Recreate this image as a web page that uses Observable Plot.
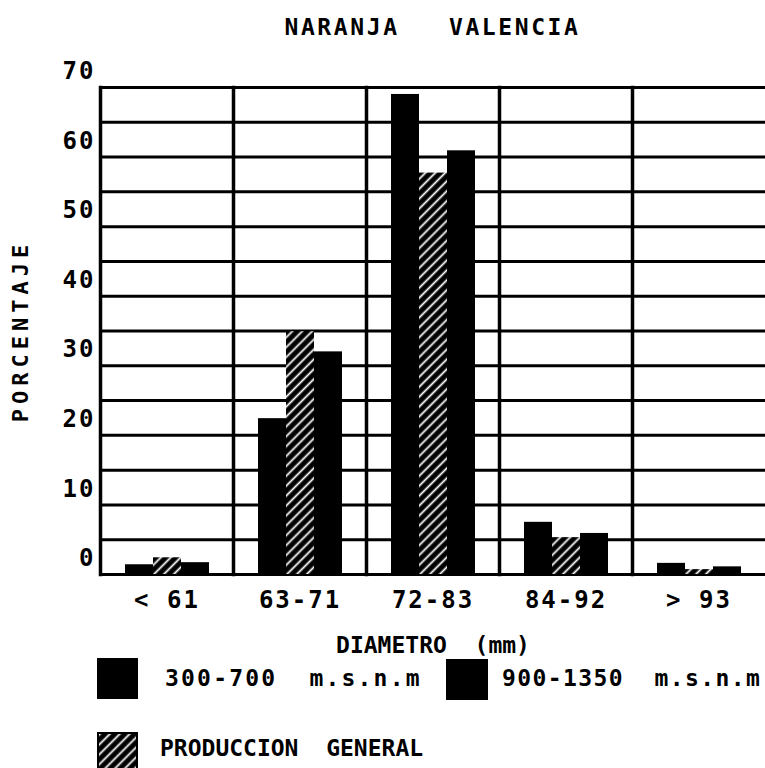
<!DOCTYPE html>
<html>
<head>
<meta charset="utf-8">
<script src="https://cdn.jsdelivr.net/npm/d3@7"></script>
<script src="https://cdn.jsdelivr.net/npm/@observablehq/plot@0.6"></script>
<style>
  html, body { margin: 0; padding: 0; background: white; }
  body { width: 765px; height: 768px; overflow: hidden; font-family: "DejaVu Sans Mono", monospace; font-weight: bold; color: black; }
  #title { height: 60px; box-sizing: border-box; padding-left: 100px; padding-top: 16px; text-align: center; font-size: 23px; line-height: 22px; letter-spacing: 2.6px; white-space: pre; }
  #legend { position: relative; height: 112px; }
  .sw { position: absolute; }
  .lt { position: absolute; font-size: 23px; line-height: 26px; white-space: pre; }
</style>
</head>
<body>
<div id="title"></div>
<div id="chart"></div>
<div id="legend"></div>
<script>
const titleText = "NARANJA   VALENCIA";
const categories = ["< 61", "63-71", "72-83", "84-92", "> 93"];
const series = ["300-700 m.s.n.m", "PRODUCCION GENERAL", "900-1350 m.s.n.m"];
const legendLabels = ["300-700  m.s.n.m", "PRODUCCION  GENERAL", "900-1350  m.s.n.m"];
const valuesLow = [1.4, 22.4, 69.0, 7.5, 1.6];      // 300-700 m.s.n.m
const valuesGeneral = [2.4, 34.9, 57.7, 5.3, 0.7];  // PRODUCCION GENERAL
const valuesHigh = [1.7, 32.0, 60.9, 5.9, 1.1];     // 900-1350 m.s.n.m
const yTicks = [0, 10, 20, 30, 40, 50, 60, 70];
const gridLevels = [0, 5, 10, 15, 20, 25, 30, 35, 40, 45, 50, 55, 60, 65, 70];
const xLabel = "DIAMETRO  (mm)";
const yLabel = "PORCENTAJE";

document.getElementById("title").textContent = titleText;

const seriesValues = [valuesLow, valuesGeneral, valuesHigh];
const rows = [];
categories.forEach((c, i) => {
  series.forEach((s, j) => rows.push({category: c, series: s, value: seriesValues[j][i]}));
});

const chart = Plot.plot({
  width: 765,
  height: 596,
  marginTop: 27,
  marginBottom: 82,
  marginLeft: 100,
  marginRight: 0,
  style: {fontFamily: "'DejaVu Sans Mono', monospace", fontWeight: "bold", fontSize: "24px", color: "black", background: "white", overflow: "visible", letterSpacing: "2px", whiteSpace: "pre"},
  fx: {domain: categories, padding: 0},
  x: {domain: series, paddingInner: 0, paddingOuter: 0.85, axis: null},
  y: {domain: [0, 70], axis: null},
  color: {domain: series, range: ["black", "url(#hatch)", "black"]},
  marks: [
    Plot.ruleY(gridLevels, {stroke: "black", strokeWidth: 3}),
    Plot.frame({anchor: "left", stroke: "black", strokeWidth: 3.5}),
    Plot.barY(rows, {fx: "category", x: "series", y: "value", fill: "series"}),
    Plot.axisY({ticks: yTicks, tickSize: 0, tickPadding: 5, dy: -16, label: yLabel, labelAnchor: "center", labelOffset: 88, fontSize: 24}),
    Plot.axisFx({anchor: "bottom", tickSize: 0, tickPadding: 16, label: xLabel, labelAnchor: "center", labelOffset: 78, fontSize: 24})
  ]
});

// hatch pattern definition
const svg = d3.select(chart.tagName.toLowerCase() === "svg" ? chart : chart.querySelector("svg"));
function addHatch(sel, id) {
  const defs = sel.insert("defs", ":first-child");
  const p = defs.append("pattern").attr("id", id).attr("patternUnits", "userSpaceOnUse")
    .attr("width", 7).attr("height", 10).attr("patternTransform", "rotate(45)");
  p.append("rect").attr("width", 7).attr("height", 10).attr("fill", "black");
  p.append("line").attr("x1", 3.5).attr("x2", 3.5).attr("y1", 0).attr("y2", 10)
    .attr("stroke", "white").attr("stroke-width", 1.8);
}
addHatch(svg, "hatch");
svg.selectAll('[aria-label="y-axis label"] text').text(yLabel).style("letter-spacing", "5px").style("font-size", "22px");
svg.selectAll('[aria-label="fx-axis label"] text').style("letter-spacing", "0px").style("font-size", "23px");
document.getElementById("chart").appendChild(chart);

// legend
const legend = d3.select("#legend");
const items = [
  {left: 97, top: 2, w: 41, h: 41, tx: 165, ty: 9, kind: "solid", label: legendLabels[0], ls: 2.2},
  {left: 446, top: 3, w: 42, h: 41, tx: 502, ty: 9, kind: "solid", label: legendLabels[2], ls: 1.4},
  {left: 97, top: 76, w: 41, h: 38, tx: 160, ty: 79, kind: "hatch", label: legendLabels[1], ls: 0}
];
items.forEach((it, k) => {
  const s = legend.append("svg").attr("class", "sw").style("left", it.left + "px").style("top", it.top + "px")
    .attr("width", it.w).attr("height", it.h);
  if (it.kind === "hatch") {
    addHatch(s, "hatchLegend");
    s.append("rect").attr("x", 1).attr("y", 1).attr("width", it.w - 2).attr("height", it.h - 2)
      .attr("fill", "url(#hatchLegend)").attr("stroke", "black").attr("stroke-width", 2);
  } else {
    s.append("rect").attr("width", it.w).attr("height", it.h).attr("fill", "black");
  }
  legend.append("div").attr("class", "lt").style("left", it.tx + "px").style("top", it.ty + "px")
    .style("letter-spacing", it.ls + "px").text(it.label);
});
</script>
</body>
</html>
